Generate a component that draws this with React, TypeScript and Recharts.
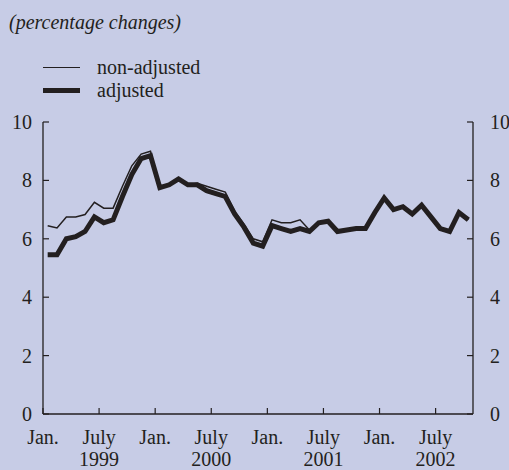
import { LineChart, Line, XAxis, YAxis } from 'recharts';

const BG = '#c7cce6';
const INK = '#231f20';
const FONT = "'Liberation Serif', 'Times New Roman', Times, 'DejaVu Serif', serif";

// monthly, Jan. 1999 .. Oct. 2002
const nonAdjusted = [
  6.45, 6.37, 6.75, 6.75, 6.83, 7.25, 7.05, 7.05, 7.8, 8.5, 8.9, 9.0,
  7.75, 7.85, 8.05, 7.85, 7.9, 7.8, 7.7, 7.6, 6.95, 6.5, 6.0, 5.9,
  6.65, 6.55, 6.55, 6.65, 6.3, 6.55, 6.6, 6.25, 6.3, 6.35, 6.35, 6.9,
  7.4, 7.0, 7.1, 6.85, 7.15, 6.75, 6.35, 6.25, 6.9, 6.65,
];
const adjusted = [
  5.45, 5.45, 6.0, 6.07, 6.25, 6.75, 6.55, 6.65, 7.45, 8.2, 8.75, 8.85,
  7.75, 7.85, 8.05, 7.85, 7.85, 7.65, 7.55, 7.45, 6.85, 6.4, 5.85, 5.75,
  6.45, 6.35, 6.25, 6.35, 6.25, 6.55, 6.6, 6.25, 6.3, 6.35, 6.35, 6.9,
  7.4, 7.0, 7.1, 6.85, 7.15, 6.75, 6.35, 6.25, 6.9, 6.65,
];

const xTicks = [0, 6, 12, 18, 24, 30, 36, 42];
const xTickLabels = ['Jan.', 'July', 'Jan.', 'July', 'Jan.', 'July', 'Jan.', 'July'];
const xTickYears = ['', '1999', '', '2000', '', '2001', '', '2002'];
const yTicks = [0, 2, 4, 6, 8, 10];

const data = nonAdjusted.map((v, i) => ({ t: i + 0.5, nonAdjusted: v, adjusted: adjusted[i] }));

const textStyle = { fontFamily: FONT, fontSize: 20, fill: INK };

function XTick(props: any) {
  const { x, y, payload } = props;
  const k = xTicks.indexOf(payload.value);
  return (
    <g>
      <line x1={x} y1={y} x2={x} y2={y - 6} stroke={INK} strokeWidth={1.2} />
      <text x={x} y={y + 30} textAnchor="middle" fontFamily={FONT} style={textStyle}>{xTickLabels[k]}</text>
      <text x={x} y={y + 52} textAnchor="middle" fontFamily={FONT} style={textStyle}>{xTickYears[k]}</text>
    </g>
  );
}

function LeftTick(props: any) {
  const { x, y, payload } = props;
  return (
    <g>
      <line x1={x} y1={y} x2={x + 6} y2={y} stroke={INK} strokeWidth={1.2} />
      <text x={x - 11} y={y + 7} textAnchor="end" fontFamily={FONT} style={textStyle}>{payload.value}</text>
    </g>
  );
}

function RightTick(props: any) {
  const { x, y, payload } = props;
  return (
    <g>
      <line x1={x} y1={y} x2={x - 6} y2={y} stroke={INK} strokeWidth={1.2} />
      <text x={x + 17} y={y + 7} textAnchor="start" fontFamily={FONT} style={textStyle}>{payload.value}</text>
    </g>
  );
}

export default function App() {
  return (
    <div style={{ position: 'fixed', left: 0, top: 0, width: 509, height: 470, background: BG, overflow: 'hidden', fontFamily: FONT, color: INK }}>
      <div style={{ position: 'absolute', left: 9, top: 9, fontSize: 20, fontStyle: 'italic', lineHeight: '26px' }}>
        (percentage changes)
      </div>
      <div style={{ position: 'absolute', left: 43, top: 56, fontSize: 20, lineHeight: '23px' }}>
        <div style={{ display: 'flex', alignItems: 'center' }}>
          <span style={{ display: 'inline-block', width: 37, height: 1.5, background: INK, marginRight: 17 }} />
          non-adjusted
        </div>
        <div style={{ display: 'flex', alignItems: 'center' }}>
          <span style={{ display: 'inline-block', width: 37, height: 5, background: INK, marginRight: 17 }} />
          adjusted
        </div>
      </div>
      <div style={{ position: 'absolute', left: 0, top: 0 }}>
        <LineChart width={509} height={470} data={data} margin={{ top: 122, right: 0, bottom: 0, left: 0 }}>
          <XAxis
            dataKey="t"
            type="number"
            domain={[0, 46]}
            ticks={xTicks}
            interval={0}
            height={56}
            tickSize={0}
            tickMargin={0}
            tickLine={false}
            axisLine={{ stroke: INK, strokeWidth: 1.3 }}
            tick={<XTick />}
          />
          <YAxis
            yAxisId="left"
            orientation="left"
            domain={[0, 10]}
            ticks={yTicks}
            interval={0}
            width={43}
            tickSize={0}
            tickMargin={0}
            tickLine={false}
            axisLine={{ stroke: INK, strokeWidth: 1.3 }}
            tick={<LeftTick />}
          />
          <YAxis
            yAxisId="right"
            orientation="right"
            domain={[0, 10]}
            ticks={yTicks}
            interval={0}
            width={36}
            tickSize={0}
            tickMargin={0}
            tickLine={false}
            axisLine={{ stroke: INK, strokeWidth: 1.3 }}
            tick={<RightTick />}
          />
          <Line
            yAxisId="left"
            type="linear"
            dataKey="adjusted"
            stroke={INK}
            strokeWidth={5}
            dot={false}
            isAnimationActive={false}
          />
          <Line
            yAxisId="right"
            type="linear"
            dataKey="nonAdjusted"
            stroke={INK}
            strokeWidth={1.5}
            dot={false}
            isAnimationActive={false}
          />
        </LineChart>
      </div>
    </div>
  );
}
